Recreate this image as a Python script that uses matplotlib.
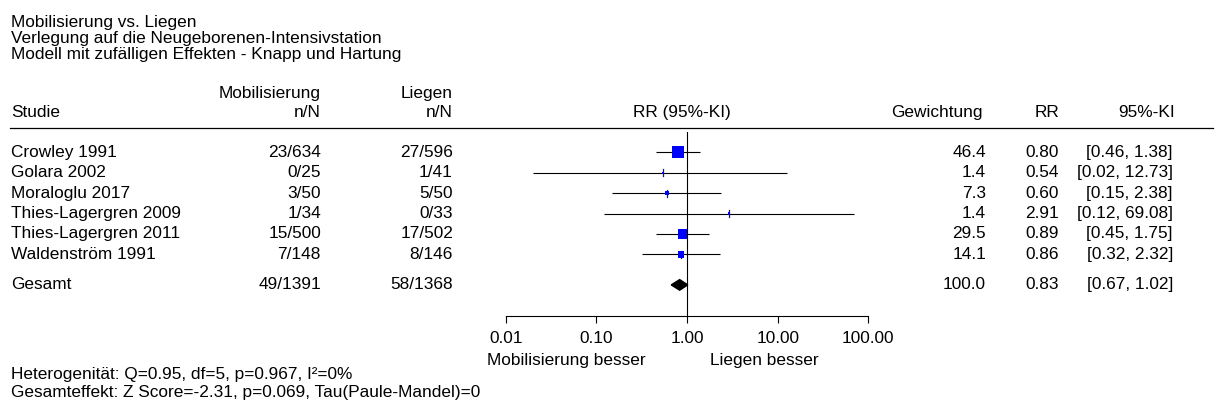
import matplotlib
matplotlib.use("Agg")
import matplotlib.pyplot as plt
import matplotlib.transforms as mtransforms
from matplotlib.patches import Polygon

# Study data
studies = ["Crowley 1991", "Golara 2002", "Moraloglu 2017", "Thies-Lagergren 2009",
           "Thies-Lagergren 2011", "Waldenström 1991"]
mob_events = [23, 0, 3, 1, 15, 7]
mob_total = [634, 25, 50, 34, 500, 148]
lie_events = [27, 1, 5, 0, 17, 8]
lie_total = [596, 41, 50, 33, 502, 146]
weights = [46.4, 1.4, 7.3, 1.4, 29.5, 14.1]
rr = [0.80, 0.54, 0.60, 2.91, 0.89, 0.86]
ci_low = [0.46, 0.02, 0.15, 0.12, 0.45, 0.32]
ci_high = [1.38, 12.73, 2.38, 69.08, 1.75, 2.32]

# Pooled result
total_label = "Gesamt"
total_mob = "49/1391"
total_lie = "58/1368"
total_weight = 100.0
total_rr = 0.83
total_low = 0.67
total_high = 1.02

xticks = [0.01, 0.1, 1, 10, 100]
xticklabels = ["0.01", "0.10", "1.00", "10.00", "100.00"]

titles = ["Mobilisierung vs. Liegen",
          "Verlegung auf die Neugeborenen-Intensivstation",
          "Modell mit zufälligen Effekten - Knapp und Hartung"]
footer = ["Heterogenität: Q=0.95, df=5, p=0.967, I²=0%",
          "Gesamteffekt: Z Score=-2.31, p=0.069, Tau(Paule-Mandel)=0"]

W, H = 1215, 405
FS = 12.4
plt.rcParams['font.family'] = ['Liberation Sans', 'DejaVu Sans']
plt.rcParams['font.size'] = FS

fig = plt.figure(figsize=(W / 100, H / 100), dpi=100)

# forest panel: 0.01 -> x=505.7px, 100 -> x=868.3px ; rows -1..8 -> y=131.9..315.5px
ax = fig.add_axes([505.7 / W, (H - 315.5) / H, (868.3 - 505.7) / W, (315.5 - 131.9) / H])
ax.set_xscale("log")
ax.set_xlim(0.01, 100)
ax.set_ylim(8, -1)

trans = mtransforms.blended_transform_factory(fig.transFigure, ax.transData)
axtrans = mtransforms.blended_transform_factory(ax.transAxes, ax.transData)


def col_text(xpx, y, s, ha):
    fig.text(xpx / W, y, s, transform=trans, ha=ha, va="center")


rows = list(range(len(studies)))
total_row = 6.5

# CI lines and squares
for i in rows:
    ax.plot([ci_low[i], ci_high[i]], [i, i], color="black", lw=0.8, solid_capstyle="butt")
    ax.plot([rr[i], rr[i]], [i - 0.17, i + 0.17], color="#1a1a6e", lw=0.9)
ax.scatter(rr, rows, s=[1.534 * w for w in weights], marker="s", color="#0000ff",
           linewidths=0, zorder=3)

# diamond for the pooled estimate
dh = 0.26
ax.add_patch(Polygon([(total_low, total_row), (total_rr, total_row - dh),
                      (total_high, total_row), (total_rr, total_row + dh)],
                     closed=True, color="black", zorder=3))

ax.axvline(1, color="black", lw=0.8)

for sp in ["left", "right", "top"]:
    ax.spines[sp].set_visible(False)
ax.spines["bottom"].set_bounds(0.01, 100)
ax.spines["bottom"].set_linewidth(0.8)
ax.set_yticks([])
ax.set_xticks(xticks)
ax.set_xticklabels(xticklabels)
ax.minorticks_off()
ax.tick_params(axis="x", length=5, width=0.8, pad=6, labelsize=FS)
ax.patch.set_visible(False)

# headers
col_text(321, -2.9, "Mobilisierung", "right")
col_text(453, -2.9, "Liegen", "right")
col_text(11, -1.93, "Studie", "left")
col_text(321, -1.93, "n/N", "right")
col_text(453, -1.93, "n/N", "right")
col_text(682, -1.93, "RR (95%-KI)", "center")
col_text(983, -1.93, "Gewichtung", "right")
col_text(1059, -1.93, "RR", "right")
col_text(1175, -1.93, "95%-KI", "right")
fig.add_artist(plt.Line2D([10 / W, 1213 / W], [-1.18, -1.18], transform=trans,
                          color="black", lw=0.9))

# study rows
for i in rows:
    col_text(11, i, studies[i], "left")
    col_text(321, i, f"{mob_events[i]}/{mob_total[i]}", "right")
    col_text(453, i, f"{lie_events[i]}/{lie_total[i]}", "right")
    col_text(986, i, f"{weights[i]:.1f}", "right")
    col_text(1059, i, f"{rr[i]:.2f}", "right")
    col_text(1173, i, f"[{ci_low[i]:.2f}, {ci_high[i]:.2f}]", "right")

col_text(11, total_row, total_label, "left")
col_text(321, total_row, total_mob, "right")
col_text(453, total_row, total_lie, "right")
col_text(986, total_row, f"{total_weight:.1f}", "right")
col_text(1059, total_row, f"{total_rr:.2f}", "right")
col_text(1173, total_row, f"[{total_low:.2f}, {total_high:.2f}]", "right")

# favours labels under the axis
ax.text(0.387, 10.2, "Mobilisierung besser", transform=axtrans,
        ha="right", va="center", clip_on=False)
ax.text(0.5634, 10.2, "Liegen besser", transform=axtrans,
        ha="left", va="center", clip_on=False)

# titles and footer
for k, t in enumerate(titles):
    fig.text(11 / W, 1 - (23 + 16 * k) / H, t, ha="left", va="center")
for k, t in enumerate(footer):
    fig.text(11 / W, 1 - (374 + 19 * k) / H, t, ha="left", va="center")

fig.savefig("out.png", dpi=100)
